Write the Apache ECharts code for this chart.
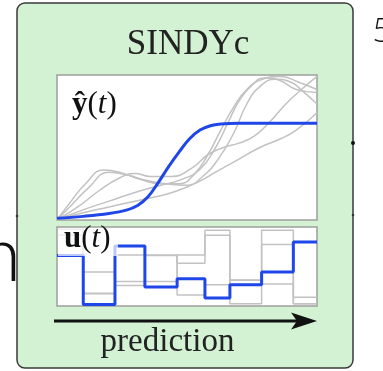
<!DOCTYPE html>
<html><head><meta charset="utf-8">
<script src="https://cdn.jsdelivr.net/npm/echarts@6/dist/echarts.min.js"></script>
<style>html,body{margin:0;padding:0;background:#fff}#c{width:383px;height:371px}</style>
</head><body><div id="c"></div>
<script>
// ---- data ----
const titleText = 'SINDYc';
const bottomText = 'prediction';
// top panel: predicted output y-hat(t), t in [0,100], value in [0,1]
const yhatBlue = [[0,0.012],[10,0.025],[20,0.045],[27,0.07],[31,0.1],[35,0.16],[39,0.26],[43,0.37],[47,0.47],[51,0.56],[55,0.62],[59,0.65],[63,0.662],[70,0.667],[100,0.667]];
const yhatGray1 = [[0,0],[5,0.12],[11,0.25],[18,0.345],[24,0.33],[32,0.28],[40,0.25],[47,0.25],[53,0.32],[58,0.45],[63,0.62],[68,0.78],[73,0.9],[79,0.97],[86,0.99],[93,0.95],[100,0.9]];
const yhatGray2 = [[0,0],[6,0.11],[12,0.22],[20,0.33],[27,0.31],[35,0.27],[42,0.25],[50,0.24],[56,0.3],[62,0.42],[68,0.6],[73,0.8],[78,0.92],[84,0.97],[90,0.95],[95,0.88],[100,0.8]];
const yhatGray3 = [[0,0],[8,0.09],[16,0.2],[24,0.29],[30,0.32],[36,0.3],[44,0.3],[52,0.36],[58,0.45],[64,0.5],[70,0.53],[76,0.58],[82,0.68],[88,0.8],[94,0.9],[100,0.99]];
const yhatGray4 = [[0,0],[10,0.05],[20,0.09],[30,0.13],[38,0.16],[46,0.2],[54,0.26],[62,0.34],[70,0.42],[78,0.5],[86,0.56],[92,0.62],[100,0.74]];
const yhatGray5 = [[0,0],[10,0.07],[20,0.13],[30,0.19],[40,0.24],[48,0.28],[55,0.35],[61,0.5],[66,0.68],[70,0.82],[75,0.93],[80,0.98],[86,0.96],[92,0.9],[100,0.88]];
// bottom panel: control input u(t), piecewise constant
const uBreaks = [0, 10.1, 22.3, 33.8, 46.2, 56.9, 66.5, 78.7, 90.9, 100];
const uBlue  = [0.64, 0.02, 0.76, 0.24, 0.345, 0.10, 0.27, 0.43, 0.81];
const uGray1 = [0.97, 0.43, 0.31, 0.31, 0.645, 0.96, 0.325, 0.96, 0.11];
const uGray2 = [0.90, 0.155, 0.26, 0.64, 0.54, 0.895, 0.03, 0.78, 0.03];
const uGray3 = [0.64, 0.16, 0.645, 0.645, 0.14, 0.27, 0.33, 0.28, 0.03];

// ---- build ----
function steps(vals){
  const d = vals.map((v,i)=>[uBreaks[i], v]);
  d.push([uBreaks[uBreaks.length-1], vals[vals.length-1]]);
  return d;
}
const GRAY = '#c2c2c2', BLUE = '#1f46e8';
const serif = '"Liberation Serif", "DejaVu Serif", serif';
function grayLine(data){ return {type:'line', data, smooth:0.5, symbol:'none', xAxisIndex:0, yAxisIndex:0, lineStyle:{color:GRAY, width:1.5}, z:2}; }
function grayStep(vals){ return {type:'line', data:steps(vals), step:'end', symbol:'none', xAxisIndex:1, yAxisIndex:1, lineStyle:{color:GRAY, width:1.5}, z:2}; }

const chart = echarts.init(document.getElementById('c'), null, {renderer:'canvas'});
chart.setOption({
  animation:false,
  backgroundColor:'#ffffff',
  grid:[
    {left:57, top:75, width:260, height:145, show:true, borderColor:'#9e9e9e', borderWidth:1.5, backgroundColor:'#ffffff', z:1},
    {left:57, top:227, width:260, height:79, show:true, borderColor:'#9e9e9e', borderWidth:1.5, backgroundColor:'#ffffff', z:1}
  ],
  xAxis:[
    {type:'value', gridIndex:0, min:0, max:100, show:false},
    {type:'value', gridIndex:1, min:0, max:100, show:false}
  ],
  yAxis:[
    {type:'value', gridIndex:0, min:0, max:1, show:false},
    {type:'value', gridIndex:1, min:0, max:1, show:false}
  ],
  series:[
    grayLine(yhatGray1), grayLine(yhatGray2), grayLine(yhatGray3), grayLine(yhatGray4), grayLine(yhatGray5),
    {type:'line', data:yhatBlue, smooth:0.4, symbol:'none', xAxisIndex:0, yAxisIndex:0, lineStyle:{color:BLUE, width:3}, z:3},
    grayStep(uGray1), grayStep(uGray2), grayStep(uGray3),
    {type:'line', data:steps(uBlue), step:'end', symbol:'none', xAxisIndex:1, yAxisIndex:1, lineStyle:{color:BLUE, width:3}, z:3}
  ],
  graphic:[
    {type:'rect', z:-10, shape:{x:17, y:3, width:336, height:365, r:8}, style:{fill:'#d3f2d3', stroke:'#3a3a3a', lineWidth:1.5}},
    {type:'text', z:50, style:{x:188, y:45, text:titleText, font:'35px '+serif, fill:'#222', textAlign:'center', textVerticalAlign:'middle'}},
    {type:'text', z:50, style:{x:72, y:104.5, text:'{b|ŷ}{n|(}{i|t}{n|)}', textVerticalAlign:'middle',
      rich:{b:{fontFamily:serif, fontSize:31, fontWeight:'bold', fill:'#111'}, n:{fontFamily:serif, fontSize:31, fill:'#111'}, i:{fontFamily:serif, fontSize:31, fontStyle:'italic', fill:'#111'}}}},
    {type:'rect', z:40, shape:{x:58, y:228, width:60, height:28}, style:{fill:'rgba(255,255,255,0.7)'}},
    {type:'text', z:50, style:{x:64, y:239, text:'{b|u}{n|(}{i|t}{n|)}', textVerticalAlign:'middle',
      rich:{b:{fontFamily:serif, fontSize:31, fontWeight:'bold', fill:'#111'}, n:{fontFamily:serif, fontSize:31, fill:'#111'}, i:{fontFamily:serif, fontSize:31, fontStyle:'italic', fill:'#111'}}}},
    {type:'line', z:50, shape:{x1:54, y1:321, x2:302, y2:321}, style:{stroke:'#111', lineWidth:3}},
    {type:'polygon', z:50, shape:{points:[[317,321],[291,312.5],[297,321],[291,329.5]]}, style:{fill:'#111'}},
    {type:'text', z:50, style:{x:167.5, y:342, text:bottomText, font:'33px '+serif, fill:'#222', textAlign:'center', textVerticalAlign:'middle'}},
    {type:'text', z:50, style:{x:21, y:256, text:'n', font:'300 76px Lato, "DejaVu Sans", sans-serif', fill:'#111', textAlign:'right', textVerticalAlign:'middle'}},
    {type:'text', z:50, style:{x:372, y:31, text:'5', font:'300 34px Lato, "DejaVu Sans", sans-serif', fill:'#111', textAlign:'left', textVerticalAlign:'middle'}},
    {type:'circle', z:60, shape:{cx:353, cy:143, r:2}, style:{fill:'#111'}},
    {type:'circle', z:60, shape:{cx:353, cy:215, r:1.3}, style:{fill:'#333'}},
    {type:'circle', z:60, shape:{cx:17, cy:216, r:1.3}, style:{fill:'#333'}}
  ]
});
</script>
</body></html>
